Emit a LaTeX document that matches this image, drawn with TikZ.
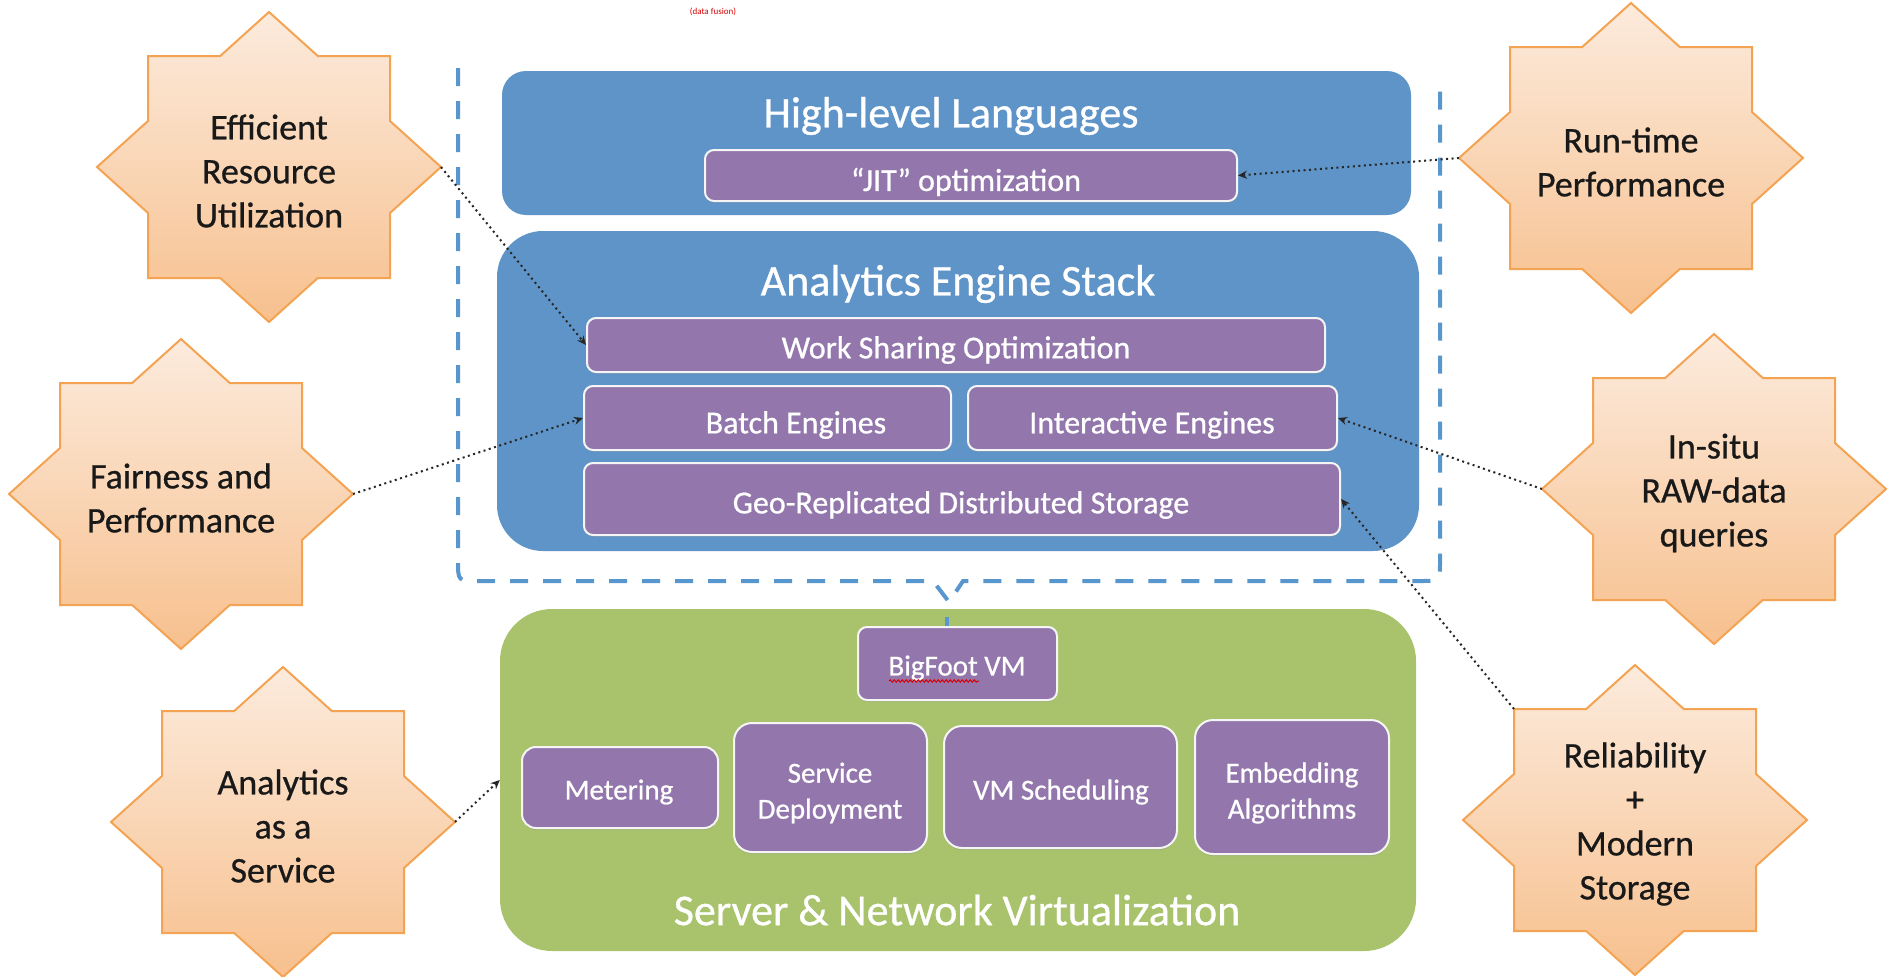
\documentclass[tikz,border=0pt]{standalone}
\usepackage{fontspec}
\setmainfont{Carlito}
\newfontfamily\heavy{Carlito}[FakeBold=0.7]
\usetikzlibrary{arrows.meta,shadows,decorations.pathmorphing}
\definecolor{bluebox}{RGB}{94,148,199}
\definecolor{purplebox}{RGB}{147,119,172}
\definecolor{greenbox}{RGB}{168,195,108}
\definecolor{dashblue}{RGB}{88,150,206}
\definecolor{startop}{RGB}{252,235,221}
\definecolor{starbot}{RGB}{247,192,142}
\definecolor{starline}{RGB}{244,163,82}
\tikzset{
  bigbox/.style={fill=#1, draw=none, inner sep=0pt},
  titletext/.style={text=white, font=\heavy\fontsize{44}{52}\selectfont, inner sep=0pt},
  pbox/.style={fill=purplebox, draw=white!92!gray, line width=2pt, rounded corners=9pt,
    inner sep=0pt, drop shadow={opacity=0.25, shadow xshift=0pt, shadow yshift=-2pt}},
  ptext/.style={text=white, font=\heavy\fontsize{32}{38}\selectfont, inner sep=0pt, align=center},
  stext/.style={text=white, font=\heavy\fontsize{29}{36}\selectfont, inner sep=0pt, align=center},
  startext/.style={text=black!90, font=\heavy\fontsize{36}{44}\selectfont, inner sep=0pt, align=center},
  dotarrow/.style={black!85, line width=2pt, dash pattern=on 2pt off 3.5pt,
    -{Stealth[length=9pt,width=8pt]}},
  bracedash/.style={dashblue, line width=4pt, dash pattern=on 18pt off 15pt},
  burst/.pic={
    \path[top color=startop, bottom color=starbot, draw=starline, line width=2pt, line join=miter]
      (0,-155) -- (48.8,-111) -- (121,-111) -- (121,-46) -- (172,0) -- (121,46) --
      (121,111) -- (48.8,111) -- (0,155) -- (-48.8,111) -- (-121,111) -- (-121,46) --
      (-172,0) -- (-121,-46) -- (-121,-111) -- (-48.8,-111) -- cycle;
    \node[startext] (-text) at (0,4) {#1};
    \coordinate (-left) at (-172,0);
    \coordinate (-right) at (172,0);
    \coordinate (-tl) at (-121,-111);
  }
}
\begin{document}
\begin{tikzpicture}[x=1pt,y=-1pt]
\useasboundingbox (0,0) rectangle (1898,977);
\fill[white] (0,0) rectangle (1898,977);

% cropped fragment at the top
\node[text=red!85!black, font=\fontsize{9}{10}\selectfont, inner sep=0pt] (frag) at (713,12) {(data fusion)};

% dashed brace around the analytics stack
\draw[bracedash] (458,68) -- (458,561) .. controls (458,581) .. (478,581) -- (933,581) -- (949,602)
   -- (963,581) -- (1420,581) .. controls (1440,581) .. (1440,561) -- (1440,88);

% big boxes
\node[bigbox=bluebox, rounded corners=24pt, minimum width=909pt, minimum height=144pt] (hll) at (956.5,143) {};
\node[titletext] (hlltitle) at (951,116) {High-level Languages};
\node[bigbox=bluebox, rounded corners=46pt, minimum width=922pt, minimum height=320pt] (aes) at (958,391) {};
\node[titletext] (aestitle) at (958,284) {Analytics Engine Stack};
\node[bigbox=greenbox, rounded corners=52pt, minimum width=916pt, minimum height=342pt] (snv) at (958,780) {};
\node[titletext] (snvtitle) at (957,910) {Server \& Network Virtualization};

% purple boxes, upper part
\node[pbox, minimum width=532pt, minimum height=51pt] (jit) at (971,175.5) {};
\node[ptext] (jittext) at (966,182) {“JIT” optimization};
\node[pbox, minimum width=738pt, minimum height=54pt] (work) at (956,345) {};
\node[ptext] (worktext) at (956,350) {Work Sharing Optimization};
\node[pbox, minimum width=367pt, minimum height=64pt] (batch) at (767.5,418) {};
\node[ptext] (batchtext) at (796,425) {Batch Engines};
\node[pbox, minimum width=369pt, minimum height=64pt] (inter) at (1152.5,418) {};
\node[ptext] (intertext) at (1152,425) {Interactive Engines};
\node[pbox, minimum width=756pt, minimum height=72pt] (geo) at (962,499) {};
\node[ptext] (geotext) at (961,505) {Geo-Replicated Distributed Storage};

% purple boxes, lower part
\node[pbox, minimum width=199pt, minimum height=73pt] (bigfoot) at (957.5,663.5) {};
\node[stext] (bigfoottext) at (957,668) {BigFoot VM};
\draw[red!85!black, line width=1pt, decorate, decoration={snake, amplitude=1.2pt, segment length=4pt}]
  (889,681) -- (979,681);
\node[pbox, rounded corners=14pt, minimum width=196pt, minimum height=81pt] (meter) at (620,787.5) {};
\node[stext] (metertext) at (619,792) {Metering};
\node[pbox, rounded corners=18pt, minimum width=193pt, minimum height=129pt] (deploy) at (830.5,787.5) {};
\node[stext] (deploytext) at (830,793) {Service\\Deployment};
\node[pbox, rounded corners=18pt, minimum width=233pt, minimum height=122pt] (sched) at (1060.5,787) {};
\node[stext] (schedtext) at (1061,792) {VM Scheduling};
\node[pbox, rounded corners=18pt, minimum width=194pt, minimum height=134pt] (embed) at (1292,787) {};
\node[stext] (embedtext) at (1292,793) {Embedding\\Algorithms};

% brace tip to BigFoot VM
\coordinate (tipline) at (947,617);
\draw[dashblue, line width=4pt] (tipline) -- (bigfoot.north -| tipline);

% stars
\pic (s1) at (269,167) {burst={Efficient\\Resource\\Utilization}};
\pic (s2) at (1631,158) {burst={Run-time\\Performance}};
\pic (s3) at (181,494) {burst={Fairness and\\Performance}};
\pic (s4) at (1714,489) {burst={In-situ\\RAW-data\\queries}};
\pic (s5) at (283,822) {burst={Analytics\\as a\\Service}};
\pic (s6) at (1635,820) {burst={Reliability\\+\\Modern\\Storage}};

% dotted connectors
\draw[dotarrow] (s1-right) -- (work.west);
\draw[dotarrow] (s3-right) -- (batch.west);
\draw[dotarrow] (s2-left) -- (jit.east);
\draw[dotarrow] (s4-left) -- (inter.east);
\draw[dotarrow] (s6-tl) -- (geo.east);
\draw[dotarrow] (s5-right) -- (snv.west);
\end{tikzpicture}
\end{document}
